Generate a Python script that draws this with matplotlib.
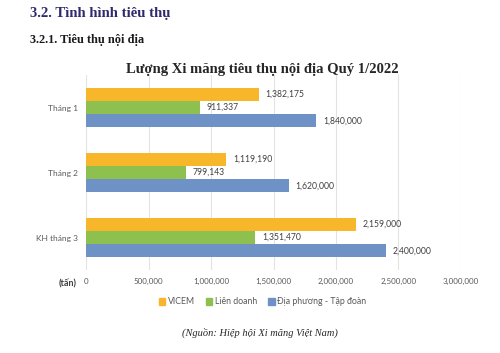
import numpy as np
import matplotlib
matplotlib.use('Agg')
import matplotlib.pyplot as plt
from matplotlib.patches import Patch

categories = ['Tháng 1', 'Tháng 2', 'KH tháng 3']
series_names = ['VICEM', 'Liên doanh', 'Địa phương - Tập đoàn']
vicem = [1382175, 1119190, 2159000]
lien_doanh = [911337, 799143, 1351470]
dia_phuong = [1840000, 1620000, 2400000]
colors = ['#F8B62B', '#8DC04F', '#6E92C5']
xticks = [0, 500000, 1000000, 1500000, 2000000, 2500000, 3000000]

label_font = ['Lato', 'DejaVu Sans']
serif = ['Liberation Serif', 'DejaVu Serif']

fig = plt.figure(figsize=(5, 3.53), dpi=100)
ax = fig.add_axes([0.172, 0.235, 0.75, 0.5525])

y = np.arange(len(categories))
h = 0.205
for k, (vals, name, c) in enumerate(zip([vicem, lien_doanh, dia_phuong], series_names, colors)):
    pos = y + (k - 1) * h
    ax.barh(pos, vals, height=h * 0.97, color=c, label=name, zorder=2)
    for p, v in zip(pos, vals):
        ax.annotate('{:,}'.format(v), (v, p), xytext=(5, 0), textcoords='offset points',
                    va='center', ha='left', fontsize=6.2, color='#404040', family=label_font)

ax.set_ylim(2.5, -0.5)
ax.set_xlim(0, 3000000)
ax.set_xticks(xticks)
ax.set_xticklabels(['{:,}'.format(t) for t in xticks], fontsize=5.8, color='#595959', family=label_font)
ax.set_yticks(y)
ax.set_yticklabels(categories, fontsize=6, color='#595959', family=label_font)
ax.tick_params(length=0, pad=6)
ax.xaxis.set_tick_params(pad=6)
ax.grid(axis='x', color='#E3E3E3', linewidth=0.8, zorder=0)
for s in ax.spines.values():
    s.set_visible(False)

fig.text(0.135, 1 - 284 / 353, '(tấn)', fontsize=6.5, color='#404040', family=label_font,
         ha='center', va='center', fontweight='bold')

ax.legend(handles=[Patch(color=c, label=n) for c, n in zip(colors, series_names)],
          loc='center', bbox_to_anchor=(0.525, 1 - 302 / 353), bbox_transform=fig.transFigure,
          ncol=3, frameon=False, handlelength=0.7, handleheight=0.7,
          handletextpad=0.3, columnspacing=1.3, labelcolor='#595959',
          prop={'family': label_font, 'size': 6.3})

fig.text(0.524, 1 - 69 / 353, 'Lượng Xi măng tiêu thụ nội địa Quý 1/2022', fontsize=10.5,
         fontweight='bold', family=serif, ha='center', va='center', color='#262626')
fig.text(0.06, 1 - 14 / 353, '3.2. Tình hình tiêu thụ', fontsize=10.6, fontweight='bold',
         family=serif, ha='left', va='center', color='#2E2A6B')
fig.text(0.06, 1 - 40 / 353, '3.2.1. Tiêu thụ nội địa', fontsize=8.8, fontweight='bold',
         family=serif, ha='left', va='center', color='#1A1A1A')
fig.text(0.52, 1 - 334 / 353, '(Nguồn: Hiệp hội Xi măng Việt Nam)', fontsize=7.5,
         style='italic', family=serif, ha='center', va='center', color='#262626')

fig.savefig('out.png', dpi=100)
